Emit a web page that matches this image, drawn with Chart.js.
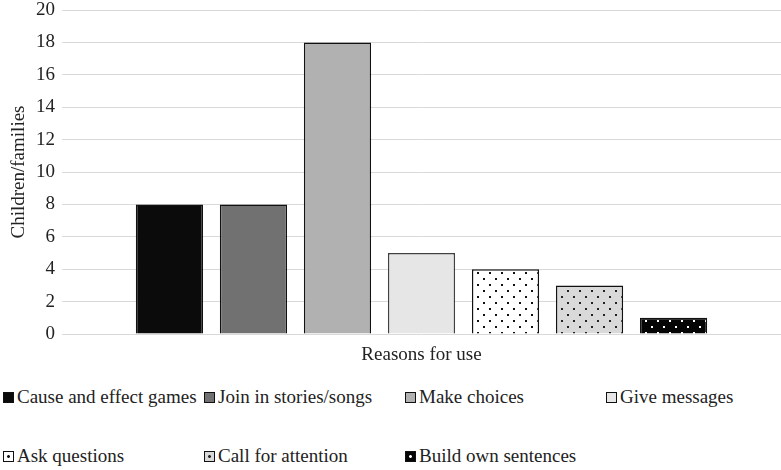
<!DOCTYPE html>
<html>
<head>
<meta charset="utf-8">
<script src="https://cdn.jsdelivr.net/npm/chart.js@4.4.1/dist/chart.umd.min.js"></script>
<style>
    html, body { margin: 0; padding: 0; background: #fff; }
    #wrap { position: relative; width: 781px; height: 470px; }
    #chartBox { position: absolute; left: 0; top: 0; width: 781px; height: 369px; }
    #legend {
        position: absolute; left: 3px; top: 386px;
        display: grid; grid-template-columns: repeat(4, 201px);
        row-gap: 37px; font-size: 19px; color: #222;
    }
    .item { display: flex; align-items: center; height: 22px; white-space: nowrap; font-family: 'Liberation Serif', serif; }
    .box { width: 9px; height: 9px; border: 1px solid #111; margin-right: 3px; box-sizing: content-box; }
</style>
</head>
<body>
<div id="wrap">
    <div id="chartBox"><canvas id="reasonsChart"></canvas></div>
    <div id="legend"></div>
</div>
<script>
// Data
const categories = ['Reasons for use'];
const seriesNames = ['Cause and effect games', 'Join in stories/songs', 'Make choices', 'Give messages',
    'Ask questions', 'Call for attention', 'Build own sentences'];
const seriesValues = [8, 8, 18, 5, 4, 3, 1];
const yTicks = [0, 2, 4, 6, 8, 10, 12, 14, 16, 18, 20];

const FONT = "'Liberation Serif', serif";
Chart.defaults.font.family = FONT;

// Fill styles: plain grey fills, then dotted patterns
const fills = [
    { bg: '#0b0b0b' },
    { bg: '#717171' },
    { bg: '#b1b1b1' },
    { bg: '#e6e6e6' },
    { bg: '#ffffff', dot: '#111111' },
    { bg: '#d9d9d9', dot: '#222222' },
    { bg: '#050505', dot: '#ffffff' }
];

function dotPattern(bg, dot) {
    const c = document.createElement('canvas');
    c.width = 12; c.height = 12;
    const g = c.getContext('2d');
    g.fillStyle = bg;
    g.fillRect(0, 0, 12, 12);
    g.fillStyle = dot;
    g.fillRect(3, 2, 2, 2);
    g.fillRect(9, 8, 2, 2);
    return g.createPattern(c, 'repeat');
}

const ctx = document.getElementById('reasonsChart').getContext('2d');

const datasets = seriesNames.map((name, i) => ({
    label: name,
    data: [seriesValues[i]],
    backgroundColor: fills[i].dot ? dotPattern(fills[i].bg, fills[i].dot) : fills[i].bg,
    borderColor: i === 3 ? '#404040' : '#111111',
    borderWidth: 1.5,
    borderSkipped: 'bottom',
    categoryPercentage: 0.818,
    barPercentage: 0.8
}));

new Chart(ctx, {
    type: 'bar',
    data: { labels: categories, datasets },
    options: {
        responsive: true,
        maintainAspectRatio: false,
        animation: false,
        layout: { padding: { left: 2, right: 0, top: 0, bottom: 0 } },
        plugins: { legend: { display: false }, tooltip: { enabled: false } },
        scales: {
            x: {
                afterFit: (axis) => { axis.height = 35; },
                grid: { display: false, drawTicks: false },
                border: { display: false },
                ticks: { color: '#222', padding: 10, font: { family: FONT, size: 19 } }
            },
            y: {
                min: 0,
                max: 20,
                afterBuildTicks: (axis) => { axis.ticks = yTicks.map(v => ({ value: v })); },
                afterFit: (axis) => { axis.width = 60; axis.paddingTop = 10; },
                grid: { color: '#d9d9d9', lineWidth: 1, drawTicks: false },
                border: { display: false },
                ticks: { color: '#222', padding: 7, font: { family: FONT, size: 19, lineHeight: 1.0 } },
                title: {
                    display: true,
                    text: 'Children/families',
                    color: '#222',
                    padding: { top: 6, bottom: 0 },
                    font: { family: FONT, size: 19 }
                }
            }
        }
    }
});

// Legend in a fixed 4-column grid
const legend = document.getElementById('legend');
seriesNames.forEach((name, i) => {
    const item = document.createElement('div');
    item.className = 'item';
    const box = document.createElement('span');
    box.className = 'box';
    box.style.background = fills[i].dot
        ? `radial-gradient(circle, ${fills[i].dot} 0 1.2px, ${fills[i].bg} 1.6px)`
        : fills[i].bg;
    item.appendChild(box);
    item.appendChild(document.createTextNode(name));
    legend.appendChild(item);
});
</script>
</body>
</html>
